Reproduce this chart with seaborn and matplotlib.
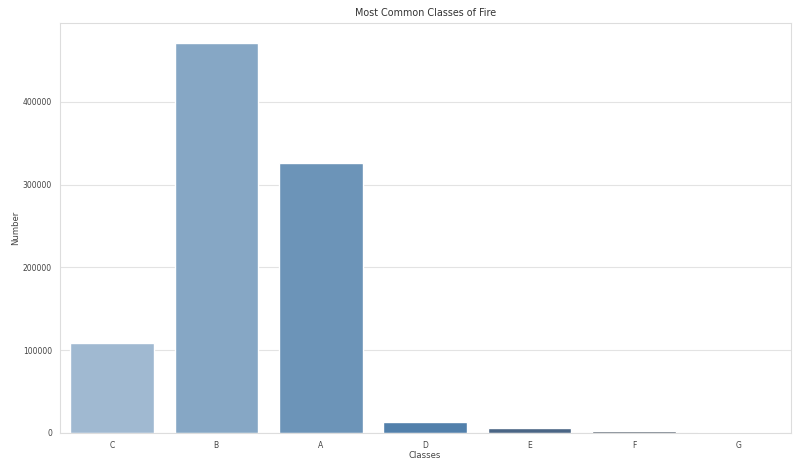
import matplotlib
matplotlib.use('Agg')
import matplotlib.pyplot as plt
import pandas as pd
import seaborn as sns

# Values
classes = ['C', 'B', 'A', 'D', 'E', 'F', 'G']
counts = [108500, 471500, 326000, 13300, 5800, 2800, 1400]

df = pd.DataFrame({'Classes': classes, 'Number': counts})

# muted "Blues_d" look of the reference (light blue -> dark slate)
bar_colors = ['#a0b9d1', '#86a7c5', '#6c94b8', '#5280ab', '#4a6585', '#4a5663', '#6a6e74']

sns.set_style('whitegrid', {'grid.color': '#e3e3e3', 'axes.edgecolor': '#dddddd'})
plt.rcParams['font.family'] = ['DejaVu Sans']

fig, ax = plt.subplots(figsize=(8.06, 4.70), dpi=100)
fig.subplots_adjust(left=0.074, right=0.981, bottom=0.079, top=0.951)

sns.barplot(x='Classes', y='Number', data=df, hue='Classes',
            palette=bar_colors, saturation=1, legend=False, ax=ax)

ax.set_title('Most Common Classes of Fire', fontsize=6.9, color='#333333', pad=5)
ax.set_xlabel('Classes', fontsize=6.1, color='#444444', labelpad=1)
ax.set_ylabel('Number', fontsize=6.1, color='#444444', labelpad=2)
ax.tick_params(axis='both', labelsize=5.5, colors='#444444', pad=2)
ax.set_yticks([0, 100000, 200000, 300000, 400000])

fig.savefig('out.png', dpi=100)
